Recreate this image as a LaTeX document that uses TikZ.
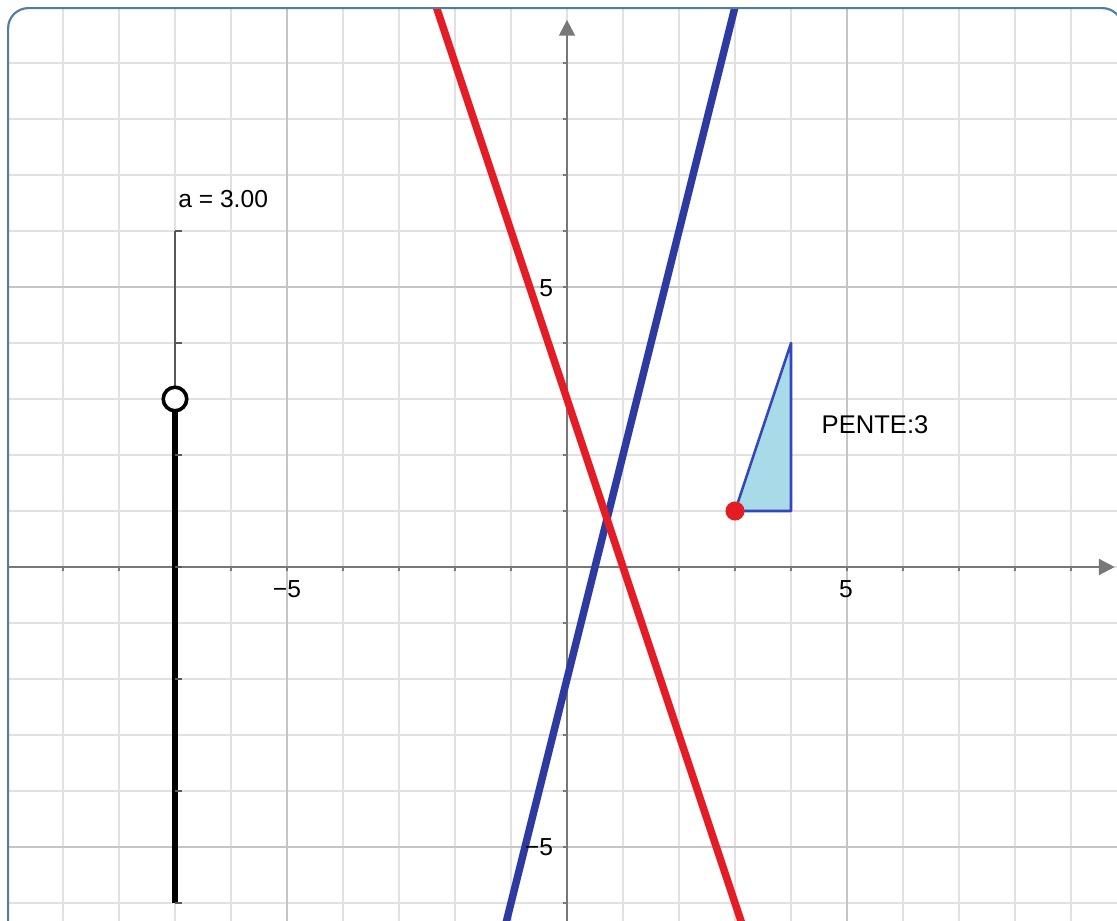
\documentclass[tikz,border=0pt]{standalone}
\usepackage{fontspec}
\setmainfont{Liberation Sans}
\usetikzlibrary{arrows.meta}
\definecolor{gridminor}{RGB}{226,224,224}
\definecolor{gridmajor}{RGB}{198,196,196}
\definecolor{axisgray}{RGB}{120,120,120}
\definecolor{framec}{RGB}{80,125,165}
\definecolor{lred}{RGB}{228,28,36}
\definecolor{lblue}{RGB}{46,58,160}
\definecolor{trifill}{RGB}{168,218,232}
\definecolor{triedge}{RGB}{52,70,190}
\tikzset{
  gridline/.style={gridminor, line width=0.9pt},
  majorline/.style={gridmajor, line width=1pt},
  axisline/.style={axisgray, line width=1.2pt, -{Triangle[length=8pt,width=8pt]}},
  tickline/.style={axisgray, line width=0.8pt},
  graphline/.style={line width=3.8pt},
  ticklabel/.style={font=\fontsize{12.5pt}{14pt}\selectfont, text=black, inner sep=0pt},
  sliderthin/.style={black!65, line width=1.2pt},
  sliderthick/.style={black, line width=3.2pt},
}
\begin{document}
\begin{tikzpicture}
\useasboundingbox (-10.125,-6.304) rectangle (9.821,10.125);
\begin{scope}
  \clip[rounded corners=0.36cm] (-9.98,-7) rectangle (9.92,9.98);
  \fill[white] (-10.2,-7) rectangle (10,10.2);
  % grid
  \foreach \x in {-10,...,9} \draw[gridline] (\x,-7) -- (\x,10.2);
  \foreach \y in {-6,...,10} \draw[gridline] (-10.2,\y) -- (10,\y);
  \foreach \x in {-10,-5,5} \draw[majorline] (\x,-7) -- (\x,10.2);
  \foreach \y in {-5,5,10} \draw[majorline] (-10.2,\y) -- (10,\y);
  % axes
  \coordinate (xs) at (-10.0,0);
  \coordinate (xe) at (9.78,0);
  \coordinate (ys) at (0,-6.4);
  \coordinate (ye) at (0,9.77);
  \draw[axisline] (xs) -- (xe);
  \draw[axisline] (ys) -- (ye);
  \foreach \x in {-9,...,9} \draw[tickline] (\x,0) -- (\x,-0.08);
  \foreach \y in {-6,...,9} \draw[tickline] (0,\y) -- (-0.08,\y);
  % lines
  \coordinate (b1) at (3.125,10.5);
  \coordinate (b2) at (-1.25,-7);
  \coordinate (r1) at (-2.5,10.5);
  \coordinate (r2) at (3.3333,-7);
  \draw[graphline, lblue] (b1) -- (b2);
  \draw[graphline, lred] (r1) -- (r2);
\end{scope}
% frame
\begin{scope}
  \clip (-10.125,-6.304) rectangle (9.821,10.125);
  \draw[framec, line width=1.1pt, rounded corners=0.36cm] (-9.98,-7) rectangle (9.92,9.98);
\end{scope}
% tick labels
\node[ticklabel] (lx1) at (-5,-0.4) {−5};
\node[ticklabel] (lx2) at (4.98,-0.4) {5};
\node[ticklabel] (ly1) at (-0.37,4.98) {5};
\node[ticklabel] (ly2) at (-0.5,-5) {−5};
% slope triangle
\coordinate (tA) at (3,1);
\coordinate (tB) at (4,1);
\coordinate (tC) at (4,4);
\filldraw[fill=trifill, draw=triedge, line width=1.3pt, line join=round] (tA) -- (tB) -- (tC) -- cycle;
\fill[lred] (tA) circle (0.17);
\node[font=\fontsize{13pt}{15pt}\selectfont, inner sep=0pt] (pente) at (5.5,2.55) {PENTE:3};
% slider
\coordinate (sTop) at (-7,6);
\coordinate (sBot) at (-7,-6);
\coordinate (sKnob) at (-7,3);
\draw[sliderthin] (sTop) -- (sKnob);
\draw[sliderthick] (sBot) -- (sKnob);
\foreach \y in {-6,-4,...,6} \draw[sliderthin] (-7,\y) -- (-6.88,\y);
\filldraw[fill=white, draw=black, line width=1.8pt] (sKnob) circle (0.21);
\node[font=\fontsize{12.5pt}{14pt}\selectfont, inner sep=0pt] (alabel) at (-6.14,6.57) {a = 3.00};
\end{tikzpicture}
\end{document}
